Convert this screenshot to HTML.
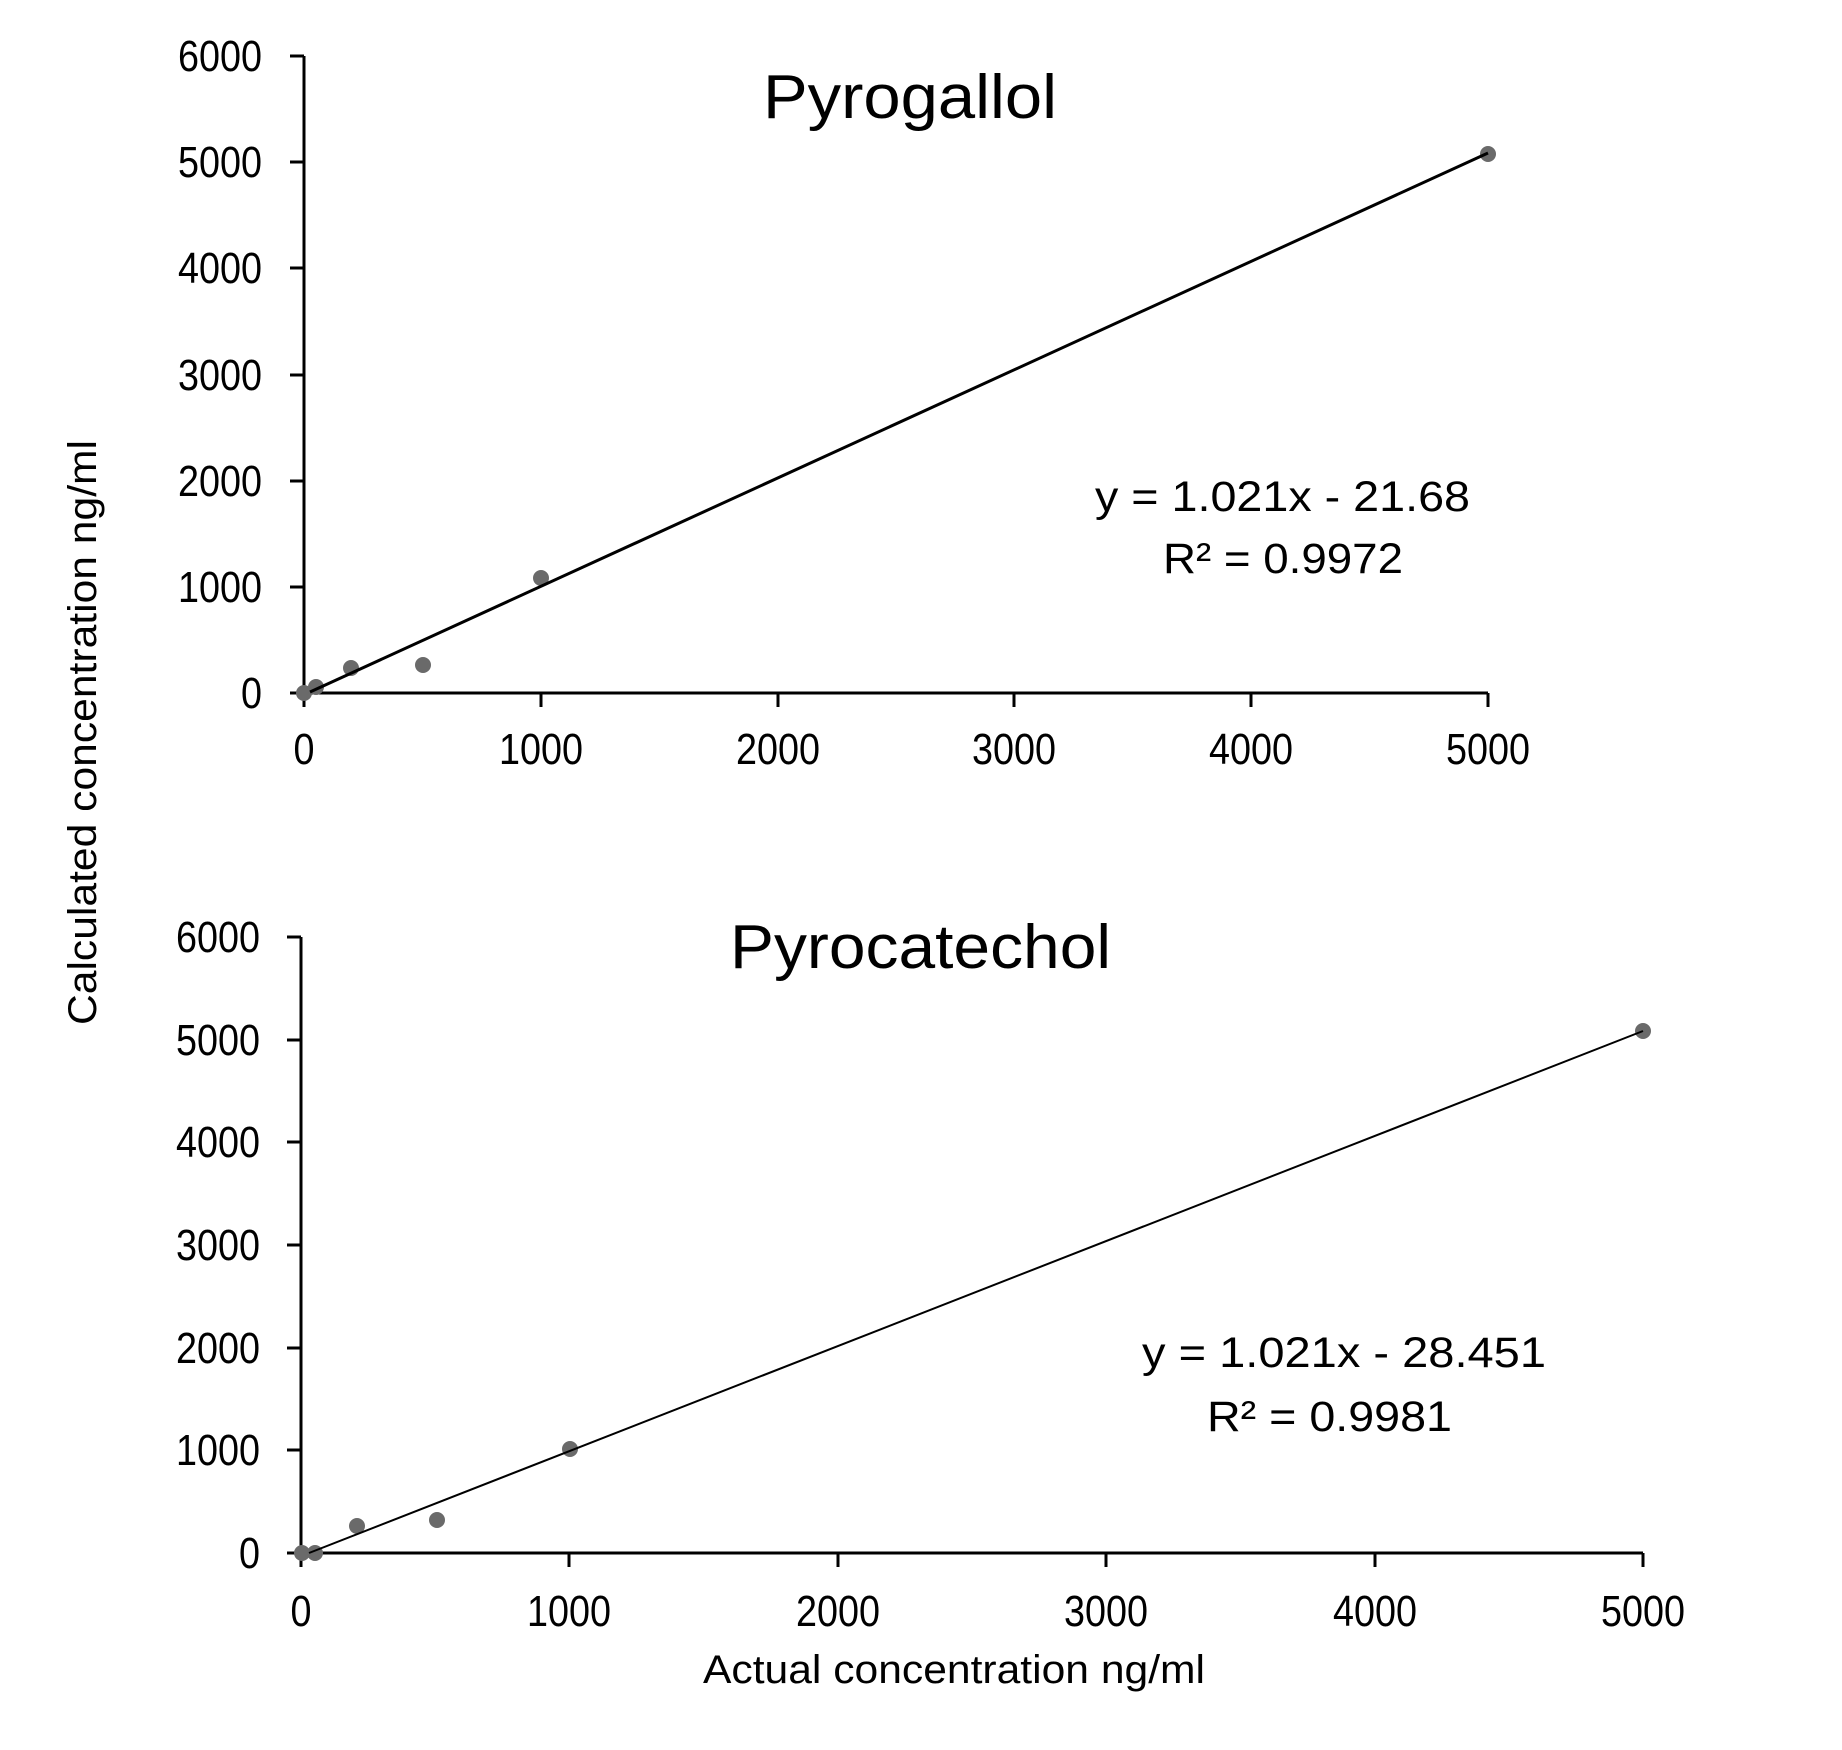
<!DOCTYPE html>
<html><head><meta charset="utf-8"><style>
html,body{margin:0;padding:0;background:#fff;}
svg{display:block;}
text{font-family:"Liberation Sans",sans-serif;fill:#000;}
</style></head><body>
<svg width="1842" height="1750" viewBox="0 0 1842 1750" xmlns="http://www.w3.org/2000/svg">
<rect width="1842" height="1750" fill="#fff"/>
<!-- Top chart -->
<g stroke="#000" stroke-width="3" fill="none">
<line x1="304" y1="56" x2="304" y2="707"/>
<line x1="290" y1="693" x2="1488" y2="693"/>
<line x1="290" y1="56" x2="304" y2="56"/>
<line x1="290" y1="162" x2="304" y2="162"/>
<line x1="290" y1="268" x2="304" y2="268"/>
<line x1="290" y1="375" x2="304" y2="375"/>
<line x1="290" y1="481" x2="304" y2="481"/>
<line x1="290" y1="587" x2="304" y2="587"/>
<line x1="541" y1="693" x2="541" y2="707"/>
<line x1="778" y1="693" x2="778" y2="707"/>
<line x1="1014" y1="693" x2="1014" y2="707"/>
<line x1="1251" y1="693" x2="1251" y2="707"/>
<line x1="1488" y1="693" x2="1488" y2="707"/>
</g>
<g font-size="44" text-anchor="end" lengthAdjust="spacingAndGlyphs">
<text x="262" y="71" textLength="84" lengthAdjust="spacingAndGlyphs">6000</text>
<text x="262" y="177" textLength="84" lengthAdjust="spacingAndGlyphs">5000</text>
<text x="262" y="283" textLength="84" lengthAdjust="spacingAndGlyphs">4000</text>
<text x="262" y="390" textLength="84" lengthAdjust="spacingAndGlyphs">3000</text>
<text x="262" y="496" textLength="84" lengthAdjust="spacingAndGlyphs">2000</text>
<text x="262" y="602" textLength="84" lengthAdjust="spacingAndGlyphs">1000</text>
<text x="262" y="708" textLength="21" lengthAdjust="spacingAndGlyphs">0</text>
</g>
<g font-size="44" text-anchor="middle">
<text x="304" y="764" textLength="21" lengthAdjust="spacingAndGlyphs">0</text>
<text x="541" y="764" textLength="84" lengthAdjust="spacingAndGlyphs">1000</text>
<text x="778" y="764" textLength="84" lengthAdjust="spacingAndGlyphs">2000</text>
<text x="1014" y="764" textLength="84" lengthAdjust="spacingAndGlyphs">3000</text>
<text x="1251" y="764" textLength="84" lengthAdjust="spacingAndGlyphs">4000</text>
<text x="1488" y="764" textLength="84" lengthAdjust="spacingAndGlyphs">5000</text>
</g>
<g fill="#6a6a6a">
<circle cx="304" cy="693" r="8"/>
<circle cx="316" cy="687" r="8"/>
<circle cx="351" cy="668" r="8"/>
<circle cx="423" cy="665" r="8"/>
<circle cx="541" cy="578" r="8"/>
<circle cx="1488" cy="154" r="8"/>
</g>
<line x1="310" y1="692" x2="1488" y2="153" stroke="#000" stroke-width="3"/>
<text x="763" y="118" font-size="62" textLength="294" lengthAdjust="spacingAndGlyphs">Pyrogallol</text>
<text x="1095" y="511" font-size="43" textLength="375" lengthAdjust="spacingAndGlyphs">y = 1.021x - 21.68</text>
<text x="1163" y="573" font-size="43" textLength="240" lengthAdjust="spacingAndGlyphs">R² = 0.9972</text>

<!-- Bottom chart -->
<g stroke="#000" stroke-width="3" fill="none">
<line x1="301" y1="937" x2="301" y2="1567"/>
<line x1="287" y1="1553" x2="1643" y2="1553"/>
<line x1="287" y1="937" x2="301" y2="937"/>
<line x1="287" y1="1040" x2="301" y2="1040"/>
<line x1="287" y1="1142" x2="301" y2="1142"/>
<line x1="287" y1="1245" x2="301" y2="1245"/>
<line x1="287" y1="1348" x2="301" y2="1348"/>
<line x1="287" y1="1450" x2="301" y2="1450"/>
<line x1="569" y1="1553" x2="569" y2="1567"/>
<line x1="838" y1="1553" x2="838" y2="1567"/>
<line x1="1106" y1="1553" x2="1106" y2="1567"/>
<line x1="1375" y1="1553" x2="1375" y2="1567"/>
<line x1="1643" y1="1553" x2="1643" y2="1567"/>
</g>
<g font-size="44" text-anchor="end">
<text x="260" y="952" textLength="84" lengthAdjust="spacingAndGlyphs">6000</text>
<text x="260" y="1055" textLength="84" lengthAdjust="spacingAndGlyphs">5000</text>
<text x="260" y="1157" textLength="84" lengthAdjust="spacingAndGlyphs">4000</text>
<text x="260" y="1260" textLength="84" lengthAdjust="spacingAndGlyphs">3000</text>
<text x="260" y="1363" textLength="84" lengthAdjust="spacingAndGlyphs">2000</text>
<text x="260" y="1465" textLength="84" lengthAdjust="spacingAndGlyphs">1000</text>
<text x="260" y="1568" textLength="21" lengthAdjust="spacingAndGlyphs">0</text>
</g>
<g font-size="44" text-anchor="middle">
<text x="301" y="1626" textLength="21" lengthAdjust="spacingAndGlyphs">0</text>
<text x="569" y="1626" textLength="84" lengthAdjust="spacingAndGlyphs">1000</text>
<text x="838" y="1626" textLength="84" lengthAdjust="spacingAndGlyphs">2000</text>
<text x="1106" y="1626" textLength="84" lengthAdjust="spacingAndGlyphs">3000</text>
<text x="1375" y="1626" textLength="84" lengthAdjust="spacingAndGlyphs">4000</text>
<text x="1643" y="1626" textLength="84" lengthAdjust="spacingAndGlyphs">5000</text>
</g>
<g fill="#6a6a6a">
<circle cx="302" cy="1553" r="8"/>
<circle cx="315" cy="1553" r="8"/>
<circle cx="357" cy="1526" r="8"/>
<circle cx="437" cy="1520" r="8"/>
<circle cx="570" cy="1449" r="8"/>
<circle cx="1643" cy="1031" r="8"/>
</g>
<line x1="309" y1="1553" x2="1643" y2="1031" stroke="#000" stroke-width="2"/>
<text x="730" y="968" font-size="62" textLength="381" lengthAdjust="spacingAndGlyphs">Pyrocatechol</text>
<text x="1142" y="1367" font-size="43" textLength="404" lengthAdjust="spacingAndGlyphs">y = 1.021x - 28.451</text>
<text x="1207" y="1431" font-size="43" textLength="245" lengthAdjust="spacingAndGlyphs">R² = 0.9981</text>

<text x="703" y="1683" font-size="40" textLength="502" lengthAdjust="spacingAndGlyphs">Actual concentration ng/ml</text>
<text transform="translate(96,1025) rotate(-90)" font-size="40" textLength="585" lengthAdjust="spacingAndGlyphs">Calculated concentration ng/ml</text>
</svg>
</body></html>
